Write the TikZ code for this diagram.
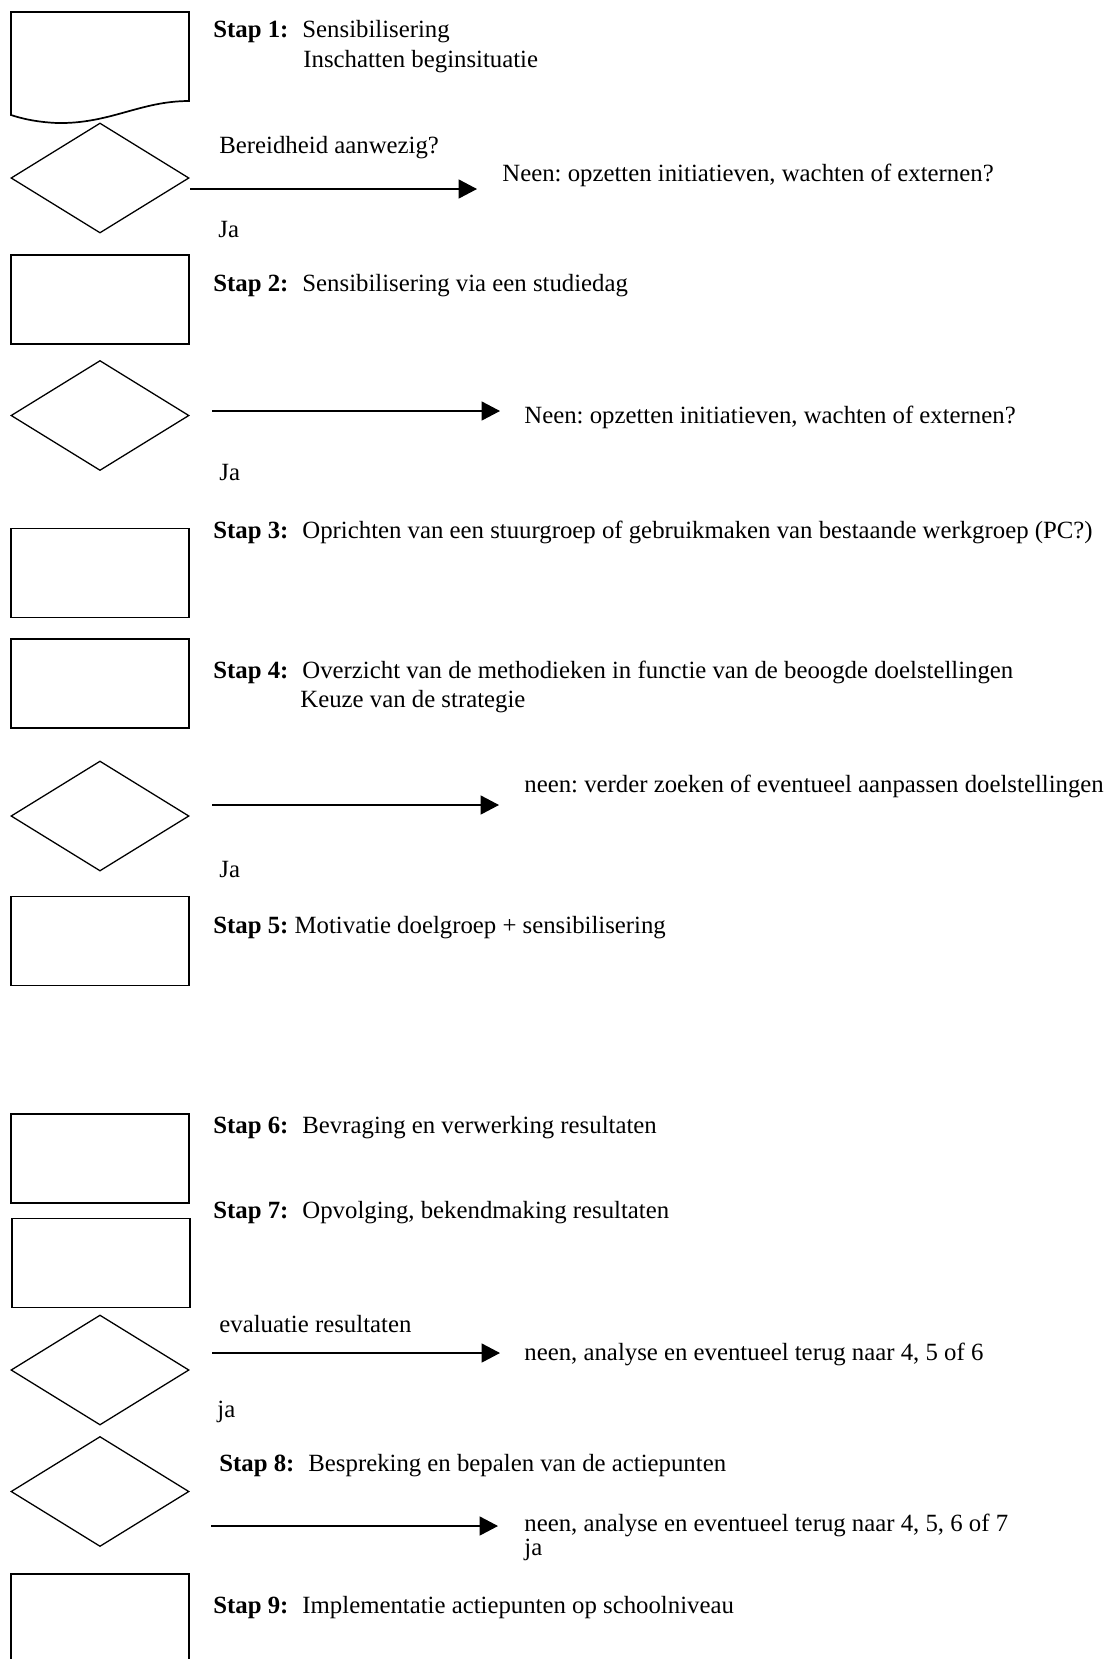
\documentclass[tikz,border=0pt]{standalone}
\usepackage{fontspec}
\setmainfont{Liberation Serif}
\usetikzlibrary{shapes.geometric,arrows.meta}
\newcommand\stapl[1]{\makebox[41.6pt][l]{\textbf{Stap #1:}}}
\begin{document}
\frenchspacing
\begin{tikzpicture}[x=0.4673pt,y=-0.4673pt,
  txt/.style={anchor=base west,inner sep=0pt,font=\fontsize{11.58}{14}\selectfont},
  boxnode/.style={draw,line width=0.8pt,minimum width=83.2pt,minimum height=41.6pt,inner sep=0pt},
  decision/.style={draw,line width=0.6pt,diamond,minimum width=83.2pt,minimum height=51.4pt,inner sep=0pt},
  arr/.style={line width=0.6pt,-{Triangle[length=8.6pt,width=8.9pt]}}]
\useasboundingbox (0,0) rectangle (1109,1659);
\fill[white] (0,0) rectangle (1109,1659);
\begin{scope}
\clip (0,0) rectangle (1109,1659);
% document shape (step 1)
\draw[line width=0.8pt] (11,12) -- (189,12) -- (189,101)
  .. controls (140,101) and (110,124) .. (57,123)
  .. controls (35,122) and (20,118) .. (11,115) -- cycle;
\coordinate (s1) at (100,60);
% decisions
\node[decision] (d1) at (100,178) {};
\node[decision] (d2) at (100,415.5) {};
\node[decision] (d3) at (100,816) {};
\node[decision] (d4) at (100,1370) {};
\node[decision] (d5) at (100,1491.5) {};
% boxes
\node[boxnode] (b2) at (100,299.5) {};
\node[boxnode] (b3) at (100,573) {};
\node[boxnode] (b4) at (100,683.5) {};
\node[boxnode] (b5) at (100,941) {};
\node[boxnode] (b6) at (100,1158.5) {};
\node[boxnode] (b7) at (101,1263) {};
\node[boxnode] (b9) at (100,1618.5) {};
\end{scope}
% texts
\node[txt] (t1a) at (213,37) {\stapl{1}Sensibilisering};
\node[txt] (t1b) at (303,67) {Inschatten beginsituatie};
\node[txt] (q1) at (219,153) {Bereidheid aanwezig?};
\node[txt] (n1) at (502,181) {Neen: opzetten initiatieven, wachten of externen?};
\node[txt] (j1) at (218,237) {Ja};
\node[txt] (t2) at (213,291) {\stapl{2}Sensibilisering via een studiedag};
\node[txt] (n2) at (524,423) {Neen: opzetten initiatieven, wachten of externen?};
\node[txt] (j2) at (219,480) {Ja};
\node[txt] (t3) at (213,538) {\stapl{3}Oprichten van een stuurgroep of gebruikmaken van bestaande werkgroep (PC?)};
\node[txt] (t4a) at (213,678) {\stapl{4}Overzicht van de methodieken in functie van de beoogde doelstellingen};
\node[txt] (t4b) at (300,707) {Keuze van de strategie};
\node[txt] (n3) at (524,792) {neen: verder zoeken of eventueel aanpassen doelstellingen};
\node[txt] (j3) at (219,877) {Ja};
\node[txt] (t5) at (213,933) {\textbf{Stap 5:} Motivatie doelgroep + sensibilisering};
\node[txt] (t6) at (213,1133) {\stapl{6}Bevraging en verwerking resultaten};
\node[txt] (t7) at (213,1218) {\stapl{7}Opvolging, bekendmaking resultaten};
\node[txt] (q4) at (219,1332) {evaluatie resultaten};
\node[txt] (n4) at (524,1360) {neen, analyse en eventueel terug naar 4, 5 of 6};
\node[txt] (j4) at (217,1417) {ja};
\node[txt] (t8) at (219,1471) {\stapl{8}Bespreking en bepalen van de actiepunten};
\node[txt] (n5) at (524,1531) {neen, analyse en eventueel terug naar 4, 5, 6 of 7};
\node[txt] (j5) at (524,1555) {ja};
\node[txt] (t9) at (213,1613) {\stapl{9}Implementatie actiepunten op schoolniveau};
% arrows
\coordinate (a1s) at (190,189); \coordinate (a1e) at (477,189);
\coordinate (a2s) at (212,411); \coordinate (a2e) at (500,411);
\coordinate (a3s) at (212,805); \coordinate (a3e) at (499,805);
\coordinate (a4s) at (212,1353); \coordinate (a4e) at (500,1353);
\coordinate (a5s) at (211,1526); \coordinate (a5e) at (498,1526);
\draw[arr] (a1s) -- (a1e);
\draw[arr] (a2s) -- (a2e);
\draw[arr] (a3s) -- (a3e);
\draw[arr] (a4s) -- (a4e);
\draw[arr] (a5s) -- (a5e);
\end{tikzpicture}
\end{document}
